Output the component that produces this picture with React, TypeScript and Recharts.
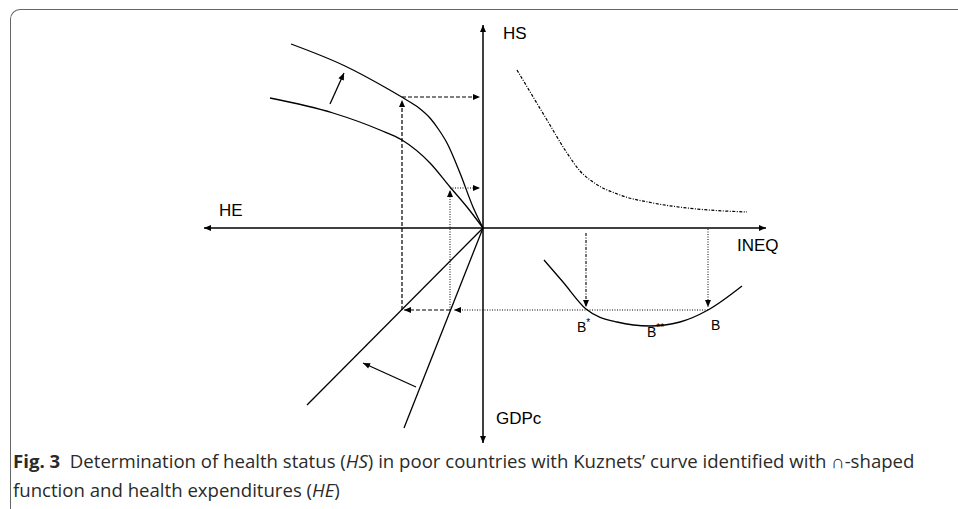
import React from 'react';
import { ComposedChart, Line, XAxis, YAxis, ReferenceDot } from 'recharts';

// diagram coordinates: origin at the crossing of the axes, y pointing up
type Pt = { x: number; y: number };
const pts = (a: number[][]): Pt[] => a.map(([x, y]) => ({ x, y }));

const axisUp = pts([[0, 0], [0, 203]]);
const axisDown = pts([[0, 0], [0, -215]]);
const axisLeft = pts([[0, 0], [-279, 0]]);
const axisRight = pts([[0, 0], [283, 0]]);

const outerCurve = pts([[-192, 184], [-138, 162], [-95, 139], [-78, 129], [-64, 120], [-53, 110], [-44, 98], [-36, 85], [-23, 55], [-10, 21], [0, 0]]);
const innerCurve = pts([[-213, 130], [-150, 115], [-103, 98], [-81, 88], [-53, 65], [-33, 41], [-16, 21], [0, 0]]);
const rayFlat = pts([[0, 0], [-176, -177]]);
const raySteep = pts([[0, 0], [-79, -200]]);
const shiftUp = pts([[-153, 124], [-139, 155]]);
const shiftLeft = pts([[-67, -159], [-120, -135]]);

const kuznetsFalling = pts([[34, 158], [64, 108], [84, 75], [97, 57], [110, 46], [137, 33], [170, 25], [214, 19], [264, 16]]);
const uCurve = pts([[61, -32], [80, -54], [103, -81], [134, -94], [167, -98], [197, -94], [225, -82], [259, -58]]);

const dashUp = pts([[-81, -82], [-81, 128]]);
const dashToHS = pts([[-81, 131], [-3, 131]]);
const dashLeft = pts([[-33, -82], [-79, -82]]);
const dotUp = pts([[-33, -82], [-33, 38]]);
const dotToHS = pts([[-33, 40], [-3, 40]]);
const dotLeft = pts([[225, -82], [-29, -82]]);
const dashDotDown = pts([[103, -5], [103, -79]]);
const dotDown = pts([[225, -1], [225, -79]]);

const axisLabels = [
  { x: 20, y: 189, text: 'HS' },
  { x: -264, y: 12, text: 'HE' },
  { x: 254, y: -23, text: 'INEQ' },
  { x: 13, y: -196, text: 'GDPc' },
];
const pointLabels = [
  { x: 94, y: -104, text: 'B', sup: '*' },
  { x: 164, y: -109, text: 'B', sup: '**' },
  { x: 228, y: -102, text: 'B', sup: '' },
];

const arrowDot = (data: Pt[]) => (p: any) => {
  const n = data.length;
  if (p.index !== n - 1) return <g key={p.key} />;
  const a = data[n - 2];
  const b = data[n - 1];
  const ang = Math.atan2(-(b.y - a.y), b.x - a.x);
  const L = 7;
  const W = 3;
  const c = Math.cos(ang);
  const s = Math.sin(ang);
  const bx = p.cx - L * c;
  const by = p.cy - L * s;
  const poly = `${p.cx},${p.cy} ${bx - W * s},${by + W * c} ${bx + W * s},${by - W * c}`;
  return <polygon key={p.key} points={poly} fill="#000" />;
};

const seg = (key: string, data: Pt[], opts: { dash?: string; arrow?: boolean; curve?: boolean; w?: number }) => (
  <Line
    key={key}
    data={data}
    dataKey="y"
    type={opts.curve ? 'monotone' : 'linear'}
    stroke="#000"
    strokeWidth={opts.w ?? 1.3}
    strokeDasharray={opts.dash}
    dot={opts.arrow ? arrowDot(data) : false}
    activeDot={false}
    isAnimationActive={false}
  />
);

export default function App() {
  return (
    <div style={{ position: 'absolute', left: 0, top: 0, width: 958, height: 509, background: '#fff', overflow: 'hidden' }}>
      <div
        style={{
          position: 'absolute', left: 10, top: 9, width: 980, height: 540,
          borderLeft: '1.3px solid #666', borderTop: '1.3px solid #666', borderTopLeftRadius: 10,
        }}
      />
      <div style={{ position: 'absolute', left: 0, top: 0 }}>
        <ComposedChart width={958} height={509} margin={{ top: 0, right: 0, bottom: 0, left: 0 }}>
          <XAxis type="number" dataKey="x" domain={[-483, 475]} hide allowDataOverflow />
          <YAxis type="number" domain={[-281, 228]} hide allowDataOverflow />
          {seg('up', axisUp, { arrow: true, w: 1.5 })}
          {seg('down', axisDown, { arrow: true, w: 1.5 })}
          {seg('left', axisLeft, { arrow: true, w: 1.5 })}
          {seg('right', axisRight, { arrow: true, w: 1.5 })}
          {seg('outer', outerCurve, { curve: true })}
          {seg('inner', innerCurve, { curve: true })}
          {seg('rayFlat', rayFlat, {})}
          {seg('raySteep', raySteep, {})}
          {seg('shiftUp', shiftUp, { arrow: true })}
          {seg('shiftLeft', shiftLeft, { arrow: true })}
          {seg('falling', kuznetsFalling, { curve: true, dash: '3 1.5 1 1.5', w: 1.2 })}
          {seg('u', uCurve, { curve: true })}
          {seg('dashUp', dashUp, { dash: '4 2', arrow: true, w: 1.2 })}
          {seg('dashToHS', dashToHS, { dash: '4 2', arrow: true, w: 1.2 })}
          {seg('dashLeft', dashLeft, { dash: '4 2', arrow: true, w: 1.2 })}
          {seg('dotUp', dotUp, { dash: '1 1.5', arrow: true, w: 1 })}
          {seg('dotToHS', dotToHS, { dash: '1 1.5', arrow: true, w: 1 })}
          {seg('dotLeft', dotLeft, { dash: '1 1.5', arrow: true, w: 1 })}
          {seg('dashDotDown', dashDotDown, { dash: '3 1.5 1 1.5', arrow: true, w: 1.1 })}
          {seg('dotDown', dotDown, { dash: '1 1.5', arrow: true, w: 1 })}
          {axisLabels.map((l) => (
            <ReferenceDot
              key={l.text}
              x={l.x}
              y={l.y}
              r={0}
              ifOverflow="visible"
              shape={(p: any) => (
                <text x={p.cx} y={p.cy} fontFamily="'Liberation Sans', Arial, sans-serif" fontSize={17} fill="#000">
                  {l.text}
                </text>
              )}
            />
          ))}
          {pointLabels.map((l) => (
            <ReferenceDot
              key={l.text + l.sup}
              x={l.x}
              y={l.y}
              r={0}
              ifOverflow="visible"
              shape={(p: any) => (
                <text x={p.cx} y={p.cy} fontFamily="'Liberation Sans', Arial, sans-serif" fontSize={14} fill="#000">
                  {l.text}
                  {l.sup && (
                    <tspan dy={-6} fontSize={10}>
                      {l.sup}
                    </tspan>
                  )}
                </text>
              )}
            />
          ))}
        </ComposedChart>
      </div>
      <div
        style={{
          position: 'absolute', left: 13, top: 446, width: 940,
          fontFamily: "'Open Sans', sans-serif", fontSize: 18.6, lineHeight: '29px', color: '#2a2a2a',
        }}
      >
        <div style={{ whiteSpace: 'nowrap' }}>
          <b>Fig. 3</b>&nbsp;&nbsp;Determination of health status (<i>HS</i>) in poor countries with Kuznets’ curve identified with ∩-shaped
        </div>
        <div style={{ whiteSpace: 'nowrap' }}>
          function and health expenditures (<i>HE</i>)
        </div>
      </div>
    </div>
  );
}
